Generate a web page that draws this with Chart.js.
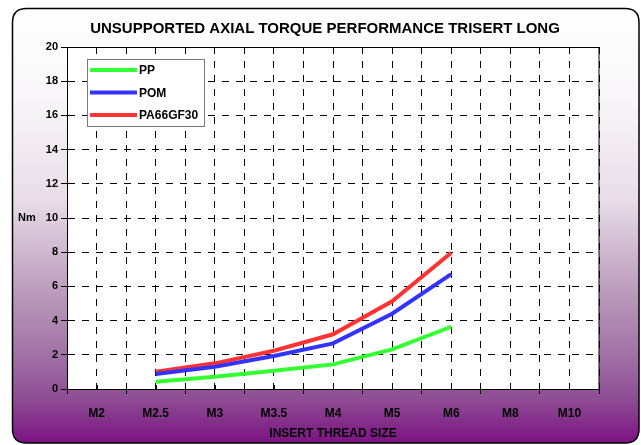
<!DOCTYPE html>
<html>
<head>
<meta charset="utf-8">
<script src="https://cdn.jsdelivr.net/npm/chart.js@4.4.0/dist/chart.umd.min.js"></script>
<style>
html,body{margin:0;padding:0;background:#fff;}
canvas{display:block;}
</style>
</head>
<body>
<canvas id="c" width="641" height="445"></canvas>
<script>
const categories = ['M2','M2.5','M3','M3.5','M4','M5','M6','M8','M10'];
const ppValues = [null, 0.43, 0.72, 1.07, 1.44, 2.32, 3.64, null, null];
const pomValues = [null, 0.88, 1.30, 1.93, 2.67, 4.40, 6.72, null, null];
const pa66Values = [null, 1.01, 1.50, 2.24, 3.20, 5.13, 7.97, null, null];
const yTicks = [0,2,4,6,8,10,12,14,16,18,20];

const FONT = "'Liberation Sans', Arial, sans-serif";

const bgPlugin = {
  id: 'bg',
  beforeDraw(chart) {
    const ctx = chart.ctx;
    ctx.save();
    ctx.fillStyle = '#fff';
    ctx.fillRect(0, 0, chart.width, chart.height);
    const x0 = 12.5, y0 = 8.5, x1 = 639, y1 = 443, r = 14;
    const g = ctx.createLinearGradient(0, y0, 0, y1);
    g.addColorStop(0, '#ffffff');
    g.addColorStop(0.21, '#f8f6f8');
    g.addColorStop(0.44, '#e8dde8');
    g.addColorStop(0.67, '#b796b8');
    g.addColorStop(0.79, '#a274a7');
    g.addColorStop(0.90, '#8d4c93');
    g.addColorStop(1, '#7c1283');
    ctx.beginPath();
    ctx.moveTo(x0 + r, y0);
    ctx.lineTo(x1 - r, y0);
    ctx.quadraticCurveTo(x1, y0, x1, y0 + r);
    ctx.lineTo(x1, y1 - r);
    ctx.quadraticCurveTo(x1, y1, x1 - r, y1);
    ctx.lineTo(x0 + r, y1);
    ctx.quadraticCurveTo(x0, y1, x0, y1 - r);
    ctx.lineTo(x0, y0 + r);
    ctx.quadraticCurveTo(x0, y0, x0 + r, y0);
    ctx.closePath();
    ctx.fillStyle = g;
    ctx.fill();
    ctx.lineWidth = 1.5;
    ctx.strokeStyle = '#000';
    ctx.stroke();
    const a = chart.chartArea;
    ctx.fillStyle = '#fff';
    ctx.fillRect(a.left, a.top, a.right - a.left, a.bottom - a.top);
    ctx.restore();
  },
  beforeDatasetsDraw(chart) {
    const ctx = chart.ctx;
    const a = chart.chartArea;
    const xs = chart.scales.x;
    ctx.save();
    ctx.strokeStyle = '#000';
    ctx.lineWidth = 1;
    ctx.strokeRect(a.left + 0.5, a.top + 0.5, a.right - a.left - 0.5, a.bottom - a.top);
    ctx.beginPath();
    for (let i = 0; i < categories.length; i++) {
      const px = Math.round(xs.getPixelForValue(i)) + 0.5;
      ctx.moveTo(px, a.bottom - 4);
      ctx.lineTo(px, a.bottom);
    }
    ctx.stroke();
    ctx.fillStyle = '#000';
    ctx.font = 'bold 11px ' + FONT;
    ctx.textAlign = 'left';
    ctx.textBaseline = 'middle';
    ctx.fillText('Nm', 18, chart.scales.y.getPixelForValue(10));
    ctx.restore();
  },
  afterDraw(chart) {
    const ctx = chart.ctx;
    ctx.save();
    const bx = 87, by = 59, bw = 117, bh = 67;
    ctx.fillStyle = '#fff';
    ctx.fillRect(bx, by, bw, bh);
    ctx.strokeStyle = '#7a7a7a';
    ctx.lineWidth = 1;
    ctx.strokeRect(bx + 0.5, by + 0.5, bw, bh);
    const rows = [70, 92.5, 115];
    chart.data.datasets.forEach((ds, i) => {
      ctx.strokeStyle = ds.borderColor;
      ctx.lineWidth = 4;
      ctx.beginPath();
      ctx.moveTo(90, rows[i]);
      ctx.lineTo(137, rows[i]);
      ctx.stroke();
      ctx.fillStyle = '#000';
      ctx.font = 'bold 12px ' + FONT;
      ctx.textAlign = 'left';
      ctx.textBaseline = 'middle';
      ctx.fillText(ds.label, 139, rows[i] + 1);
    });
    ctx.restore();
  }
};

new Chart(document.getElementById('c'), {
  type: 'line',
  data: {
    labels: categories,
    datasets: [
      { label: 'PP', data: ppValues, borderColor: '#33ff33', backgroundColor: '#33ff33' },
      { label: 'POM', data: pomValues, borderColor: '#3333ff', backgroundColor: '#3333ff' },
      { label: 'PA66GF30', data: pa66Values, borderColor: '#ff3333', backgroundColor: '#ff3333' }
    ]
  },
  options: {
    responsive: false,
    animation: false,
    devicePixelRatio: 1,
    elements: {
      line: { borderWidth: 4, tension: 0, borderCapStyle: 'butt', borderJoinStyle: 'miter' },
      point: { radius: 0, hoverRadius: 0 }
    },
    layout: { padding: { top: 0, right: 0, bottom: 0, left: 9 } },
    plugins: {
      legend: { display: false },
      tooltip: { enabled: false },
      title: {
        display: true,
        text: 'UNSUPPORTED AXIAL TORQUE PERFORMANCE TRISERT LONG',
        color: '#000',
        font: { family: FONT, size: 15, weight: 'bold' },
        padding: { top: 20, bottom: 9 }
      }
    },
    scales: {
      x: {
        type: 'category',
        offset: true,
        position: 'bottom',
        weight: 1,
        grid: { display: true, offset: true, color: '#000', lineWidth: 1, drawTicks: true, tickLength: 5, tickColor: '#000', tickBorderDash: [] },
        border: { display: true, color: '#000', width: 1, dash: [7, 7] },
        ticks: { color: '#000', font: { family: FONT, size: 12, weight: 'bold' }, padding: 12, maxRotation: 0, autoSkip: false },
        title: { display: true, text: 'INSERT THREAD SIZE', color: '#000', font: { family: FONT, size: 12, weight: 'bold' }, padding: { top: 0, bottom: 4 } },
        afterFit(s) { s.height = 56; }
      },
      x2: {
        type: 'category',
        labels: categories,
        offset: true,
        position: 'bottom',
        weight: 0,
        grid: { display: true, offset: false, color: '#000', lineWidth: 1, drawTicks: false },
        border: { display: false, dash: [7, 7] },
        ticks: { display: false },
        afterFit(s) { s.height = 0; }
      },
      y: {
        min: 0, max: 20,
        afterBuildTicks(s) { s.ticks = yTicks.map(v => ({ value: v })); },
        grid: { display: true, color: '#000', lineWidth: 1, drawTicks: true, tickLength: 6, tickColor: '#000', tickBorderDash: [] },
        border: { display: true, color: '#000', width: 1, dash: [7, 7] },
        ticks: { color: '#000', font: { family: FONT, size: 11, weight: 'bold' }, padding: 3 },
        afterFit(s) { s.width = 58; }
      },
      yRight: {
        position: 'right',
        min: 0, max: 20,
        grid: { display: false, drawTicks: false },
        border: { display: false },
        ticks: { display: false },
        afterFit(s) { s.width = 42; }
      }
    }
  },
  plugins: [bgPlugin]
});
</script>
</body>
</html>
